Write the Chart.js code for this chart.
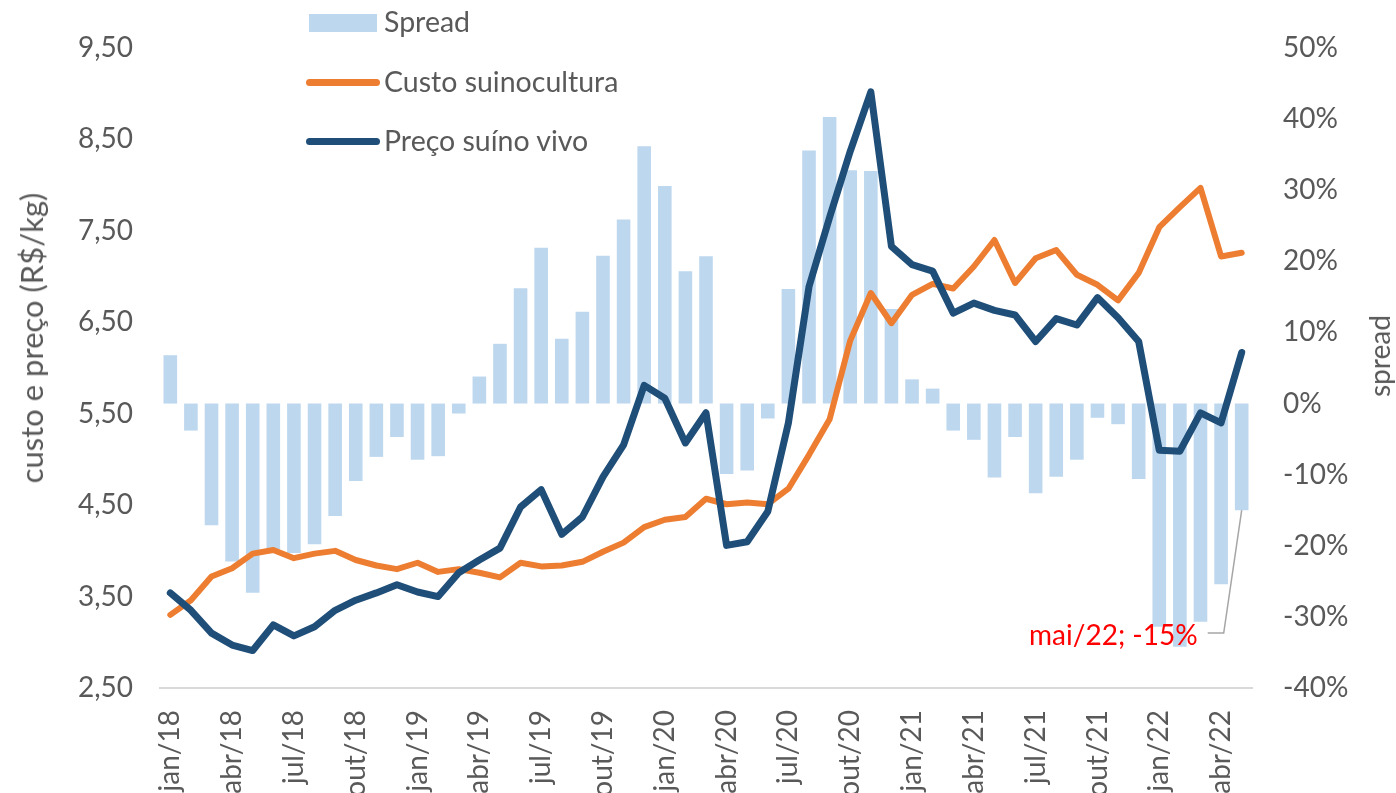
<!DOCTYPE html>
<html>
<head>
<meta charset="utf-8">
<script src="https://cdn.jsdelivr.net/npm/chart.js@4.4.0/dist/chart.umd.min.js"></script>
<style>
  html, body { margin: 0; padding: 0; background: #fff; overflow: hidden; }
  #wrap { position: relative; width: 1396px; height: 793px; font-family: Lato, sans-serif; color: #595959; }
  canvas { position: absolute; left: 0; top: 0; }
  .leg { position: absolute; left: 306px; font-size: 28.5px; height: 30px; line-height: 30px; }
  .leg span.sw { position: absolute; left: 0; }
  .leg span.tx { position: absolute; left: 78px; white-space: nowrap; }
  .ytitle { position: absolute; white-space: nowrap; transform: translate(-50%, -50%) rotate(-90deg); }
</style>
</head>
<body>
<div id="wrap">
  <canvas id="grafico" width="1396" height="793"></canvas>
  <div class="leg" style="top:6px"><span class="sw" style="left:3px;top:8px;width:68px;height:18px;background:#bdd7ee"></span><span class="tx">Spread</span></div>
  <div class="leg" style="top:66px"><span class="sw" style="top:13px;width:74px;height:7px;border-radius:4px;background:#ed7d31"></span><span class="tx">Custo suinocultura</span></div>
  <div class="leg" style="top:125px"><span class="sw" style="top:13px;width:74px;height:7px;border-radius:4px;background:#1f4e79"></span><span class="tx">Preço suíno vivo</span></div>
  <div class="ytitle" style="left:31px;top:338px;font-size:31px">custo e preço (R$/kg)</div>
  <div class="ytitle" style="left:1379px;top:356px;font-size:28px">spread</div>
</div>
<script>
// meses (jan/18 a mai/22)
const meses = [
  "jan/18","fev/18","mar/18","abr/18","mai/18","jun/18","jul/18","ago/18","set/18","out/18","nov/18","dez/18",
  "jan/19","fev/19","mar/19","abr/19","mai/19","jun/19","jul/19","ago/19","set/19","out/19","nov/19","dez/19",
  "jan/20","fev/20","mar/20","abr/20","mai/20","jun/20","jul/20","ago/20","set/20","out/20","nov/20","dez/20",
  "jan/21","fev/21","mar/21","abr/21","mai/21","jun/21","jul/21","ago/21","set/21","out/21","nov/21","dez/21",
  "jan/22","fev/22","mar/22","abr/22","mai/22"
];

// spread em %
const spread = [
  6.8, -3.8, -17.1, -22.2, -26.6, -20.5, -21.0, -19.8, -15.8, -10.9, -7.5, -4.7,
  -7.9, -7.4, -1.4, 3.8, 8.4, 16.2, 21.9, 9.1, 12.9, 20.8, 25.9, 36.2,
  30.6, 18.6, 20.7, -9.9, -9.4, -2.1, 16.1, 35.6, 40.3, 32.8, 32.7, 13.3,
  3.4, 2.1, -3.8, -5.1, -10.4, -4.7, -12.6, -10.3, -7.9, -2.0, -2.9, -10.6,
  -31.4, -34.2, -30.7, -25.4, -15
];

// custo suinocultura (R$/kg)
const custo = [
  3.30, 3.46, 3.72, 3.81, 3.97, 4.01, 3.92, 3.97, 4.00, 3.90, 3.84, 3.80,
  3.87, 3.77, 3.80, 3.76, 3.71, 3.87, 3.83, 3.84, 3.88, 3.99, 4.09, 4.26,
  4.34, 4.37, 4.57, 4.51, 4.53, 4.51, 4.68, 5.05, 5.44, 6.30, 6.82, 6.49,
  6.80, 6.92, 6.87, 7.11, 7.40, 6.93, 7.20, 7.29, 7.02, 6.91, 6.74, 7.04,
  7.54, 7.76, 7.97, 7.22, 7.26
];

// preço suíno vivo (R$/kg)
const preco = [
  3.54, 3.35, 3.10, 2.97, 2.91, 3.19, 3.07, 3.17, 3.35, 3.46, 3.54, 3.63,
  3.55, 3.50, 3.76, 3.90, 4.03, 4.48, 4.67, 4.18, 4.37, 4.81, 5.16, 5.81,
  5.67, 5.18, 5.51, 4.06, 4.10, 4.43, 5.40, 6.89, 7.65, 8.37, 9.02, 7.33,
  7.13, 7.06, 6.60, 6.71, 6.63, 6.58, 6.29, 6.54, 6.47, 6.77, 6.55, 6.29,
  5.10, 5.09, 5.51, 5.40, 6.17
];

const rotulo = "mai/22; -15%";

const cinza = "#595959";
const fonte = { family: "Lato", size: 28 };

// rótulo do último mês com linha de chamada
const rotuloPlugin = {
  id: "rotulo",
  afterDatasetsDraw(chart) {
    const ctx = chart.ctx;
    const bar = chart.getDatasetMeta(2).data[spread.length - 1];
    const x = bar.x, y = bar.y;
    const ly = 633;
    ctx.save();
    ctx.strokeStyle = "#a6a6a6";
    ctx.lineWidth = 1.5;
    ctx.beginPath();
    ctx.moveTo(x, y);
    ctx.lineTo(x - 18, ly);
    ctx.lineTo(x - 34, ly);
    ctx.stroke();
    ctx.fillStyle = "#ff0000";
    ctx.font = "28px Lato";
    ctx.textAlign = "right";
    ctx.textBaseline = "middle";
    ctx.fillText(rotulo, x - 44, ly + 3);
    ctx.restore();
  }
};

const ctx = document.getElementById("grafico").getContext("2d");
new Chart(ctx, {
  type: "bar",
  data: {
    labels: meses,
    datasets: [
      {
        type: "line",
        label: "Preço suíno vivo",
        data: preco,
        yAxisID: "y",
        borderColor: "#1f4e79",
        borderWidth: 7,
        pointRadius: 0,
        tension: 0,
        borderJoinStyle: "round",
        borderCapStyle: "round",
        order: 0
      },
      {
        type: "line",
        label: "Custo suinocultura",
        data: custo,
        yAxisID: "y",
        borderColor: "#ed7d31",
        borderWidth: 6,
        pointRadius: 0,
        tension: 0,
        borderJoinStyle: "round",
        borderCapStyle: "round",
        order: 1
      },
      {
        label: "Spread",
        data: spread,
        yAxisID: "y1",
        backgroundColor: "#bdd7ee",
        barPercentage: 0.66,
        categoryPercentage: 1,
        order: 2
      }
    ]
  },
  options: {
    responsive: false,
    animation: false,
    devicePixelRatio: 1,
    layout: { padding: { top: 48 } },
    plugins: {
      legend: { display: false },
      tooltip: { enabled: false }
    },
    scales: {
      x: {
        grid: { display: false, drawTicks: false },
        border: { color: "#d9d9d9", width: 2 },
        ticks: {
          autoSkip: false,
          minRotation: 90,
          maxRotation: 90,
          padding: 22,
          color: cinza,
          font: fonte,
          callback: function (v, i) { return i % 3 === 0 ? meses[i] : ""; }
        },
        afterFit(scale) { scale.height = 105; }
      },
      y: {
        position: "left",
        min: 2.5,
        max: 9.5,
        grid: { display: false, drawTicks: false },
        border: { display: false },
        ticks: {
          stepSize: 1,
          padding: 27,
          color: cinza,
          font: fonte,
          callback: v => v.toFixed(2).replace(".", ",")
        },
        afterFit(scale) { scale.width = 160; }
      },
      y1: {
        position: "right",
        min: -40,
        max: 50,
        grid: { display: false, drawTicks: false },
        border: { display: false },
        ticks: {
          stepSize: 10,
          padding: 31,
          color: cinza,
          font: fonte,
          callback: v => Math.round(v) + "%"
        },
        afterFit(scale) { scale.width = 144; }
      }
    }
  },
  plugins: [rotuloPlugin]
});
</script>
</body>
</html>
